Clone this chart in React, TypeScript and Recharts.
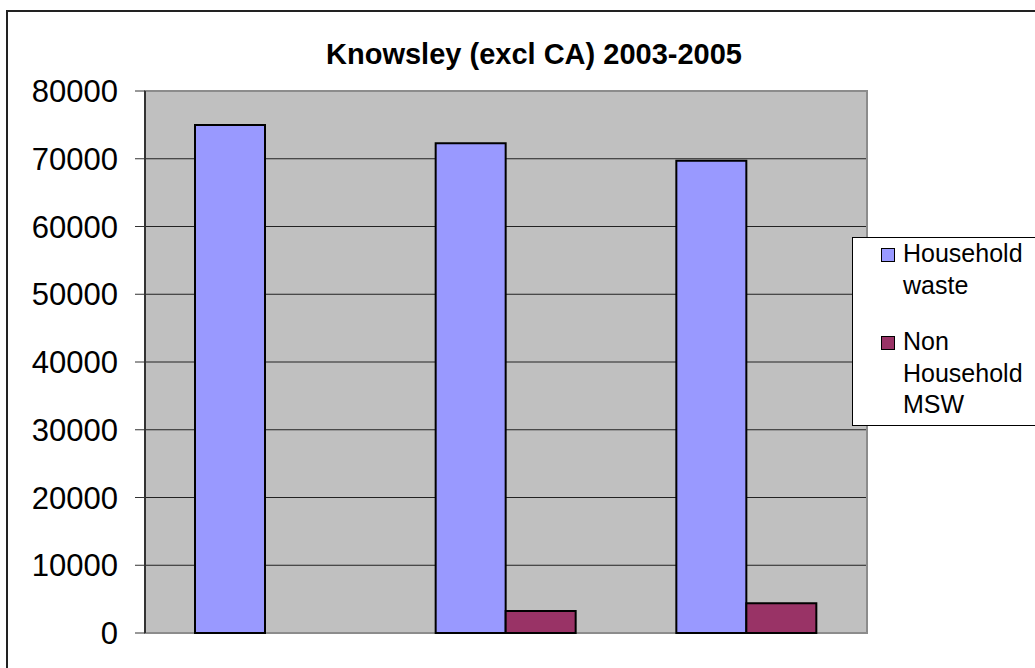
import React from "react";
import * as Recharts from "recharts";
import { BarChart, Bar, XAxis, YAxis, CartesianGrid, Legend } from "recharts";

const categories = ["", "", ""];
const householdWaste = [75000, 72300, 69700];
const nonHouseholdMsw = [null, 3250, 4400];
const yTicks = [0, 10000, 20000, 30000, 40000, 50000, 60000, 70000, 80000];

const data = categories.map((name, i) => ({
  name,
  household: householdWaste[i],
  nonHousehold: nonHouseholdMsw[i],
}));

const FONT = "'Liberation Sans', Arial, sans-serif";

const usePlot: any = (Recharts as any).usePlotArea;

const PlotFrame = () => {
  const area = usePlot ? usePlot() : null;
  if (!area) return null;
  return (
    <rect
      x={area.x}
      y={area.y}
      width={area.width}
      height={area.height}
      fill="none"
      stroke="#8c8c8c"
      strokeWidth={2}
    />
  );
};

const LegendBox = (props: any) => {
  const items = props.payload || [];
  return (
    <div
      style={{
        border: "1px solid #000",
        background: "#fff",
        width: 200,
        height: 189,
        boxSizing: "border-box",
        paddingLeft: 28,
        fontFamily: FONT,
        fontSize: 25,
        lineHeight: "31.5px",
        color: "#000",
      }}
    >
      {items.map((it: any, i: number) => (
        <div key={i} style={{ display: "flex", marginTop: i === 0 ? 0 : 25 }}>
          <div
            style={{
              width: 14,
              height: 14,
              marginTop: 10,
              marginRight: 8,
              background: it.color,
              border: "1.5px solid #000",
              boxSizing: "border-box",
              flexShrink: 0,
            }}
          />
          <div style={{ width: 135 }}>{it.value}</div>
        </div>
      ))}
    </div>
  );
};

export default function App() {
  return (
    <div
      style={{
        position: "absolute",
        left: 0,
        top: 0,
        width: 1035,
        height: 668,
        overflow: "hidden",
        background: "#fff",
        fontFamily: FONT,
      }}
    >
      <div
        style={{
          position: "absolute",
          left: 6,
          top: 10,
          width: 1060,
          height: 700,
          border: "2px solid #222",
        }}
      />
      <div
        style={{
          position: "absolute",
          left: 0,
          top: 40,
          width: 1068,
          textAlign: "center",
          fontSize: 29,
          lineHeight: "28px",
          fontWeight: "bold",
        }}
      >
        Knowsley (excl CA) 2003-2005
      </div>
      <div style={{ position: "absolute", left: 0, top: 0 }}>
        <BarChart
          width={1035}
          height={668}
          data={data}
          margin={{ top: 91, right: 168, left: 0, bottom: 0 }}
          barGap={0}
          barSize={70}
        >
          <CartesianGrid
            horizontal={true}
            vertical={false}
            fill="#c0c0c0"
            fillOpacity={1}
            stroke="#222"
          />
          <XAxis dataKey="name" height={35} tick={false} axisLine={false} tickLine={false} />
          <YAxis
            width={145}
            domain={[0, 80000]}
            ticks={yTicks}
            interval={0}
            tickSize={10}
            tickMargin={17}
            tick={{ fill: "#000", fontSize: 31, fontFamily: FONT }}
            axisLine={{ stroke: "#333", strokeWidth: 2 }}
            tickLine={{ stroke: "#333" }}
          />
          <PlotFrame />
          <Bar
            dataKey="household"
            name="Household waste"
            fill="#9999ff"
            stroke="#000"
            strokeWidth={2}
            isAnimationActive={false}
          />
          <Bar
            dataKey="nonHousehold"
            name="Non Household MSW"
            fill="#993366"
            stroke="#000"
            strokeWidth={2}
            isAnimationActive={false}
          />
          <Legend
            layout="vertical"
            align="center"
            verticalAlign="middle"
            content={<LegendBox />}
            wrapperStyle={{ left: 852, top: 237, width: 200, height: 189 }}
          />
        </BarChart>
      </div>
    </div>
  );
}
